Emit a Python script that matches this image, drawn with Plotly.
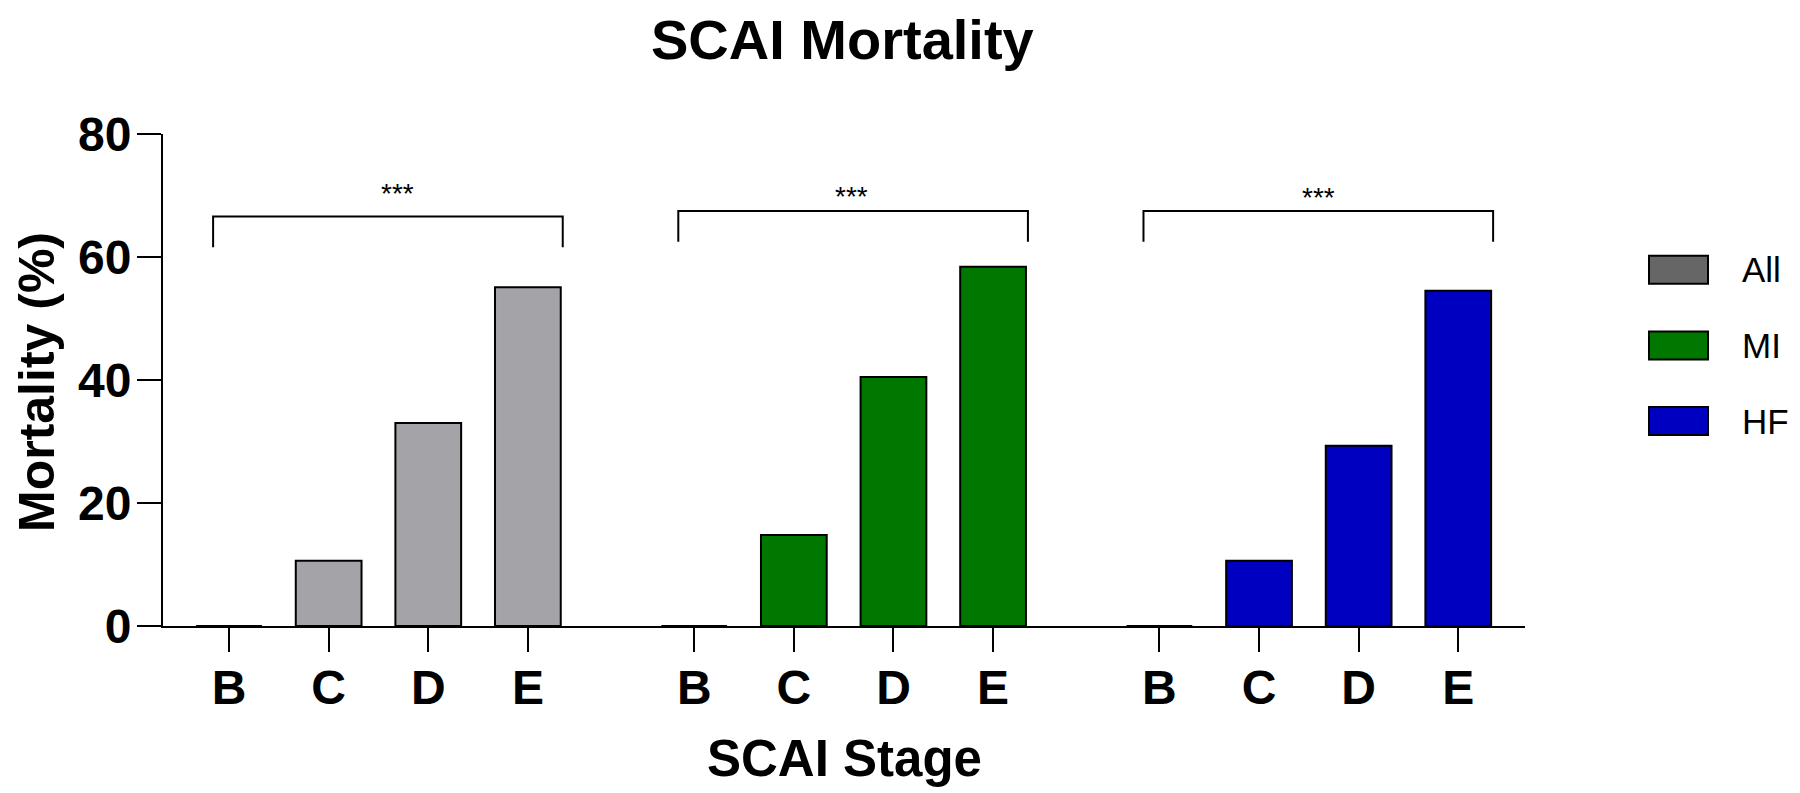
import plotly.graph_objects as go

# ---- data ----
stages = ["B", "C", "D", "E"]
groups = ["All", "MI", "HF"]
all_vals = [0, 10.6, 33.0, 55.1]
mi_vals = [0, 14.8, 40.5, 58.4]
hf_vals = [0, 10.6, 29.3, 54.5]
bracket_tops = [66.6, 67.5, 67.5]
star_heights = [70.4, 69.8, 69.6]
star_x = [1.69, 1.58, 1.60]
bracket_label = "***"
bar_colors = ["#A4A4A8", "#007800", "#0000C0"]
legend_colors = ["#666666", "#007800", "#0000C0"]

# ---- layout geometry (page has an 8px body margin) ----
W, H = 1792, 785
L, R, T, B = 155, 275, 126, 167
PW, PH = W - L - R, H - T - B
GROUP_STEP = 4.67
FONT = "Liberation Sans, Arial, sans-serif"


def px_x(p):
    return (p - 8 - L) / PW


def px_y(p):
    return (H - B - (p - 8)) / PH


series = [all_vals, mi_vals, hf_vals]
fig = go.Figure()
tickvals, ticktext = [], []
for g, (name, vals, col) in enumerate(zip(groups, series, bar_colors)):
    xs = [g * GROUP_STEP + i for i in range(len(stages))]
    tickvals += xs
    ticktext += stages
    fig.add_trace(go.Bar(
        x=xs, y=vals, name=name, width=0.66, showlegend=False,
        marker=dict(color=col, line=dict(color="black", width=2)),
    ))
    # significance bracket
    x0 = xs[0] - 0.16
    x1 = xs[-1] + 0.35
    top = bracket_tops[g]
    fig.add_shape(type="path",
                  path=f"M {x0},{top-5} L {x0},{top} L {x1},{top} L {x1},{top-5}",
                  xref="x", yref="y", line=dict(color="black", width=2))
    fig.add_annotation(x=xs[0] + star_x[g], y=star_heights[g], xref="x", yref="y",
                       text=bracket_label, showarrow=False,
                       font=dict(family=FONT, size=28, color="black"),
                       yanchor="middle")

# manual legend
for i, (name, col) in enumerate(zip(groups, legend_colors)):
    top_px = 255.7 + i * 75.7
    fig.add_shape(type="rect", xref="paper", yref="paper",
                  x0=px_x(1649), x1=px_x(1708),
                  y0=px_y(top_px + 28), y1=px_y(top_px),
                  fillcolor=col, line=dict(color="black", width=2))
    fig.add_annotation(xref="paper", yref="paper", x=px_x(1740), y=px_y(top_px + 14),
                       text=name, showarrow=False, xanchor="left", yanchor="middle",
                       font=dict(family=FONT, size=35, color="black"))

# titles
fig.add_annotation(xref="paper", yref="paper", x=px_x(842), y=px_y(40),
                   text="SCAI Mortality", showarrow=False, yanchor="middle",
                   font=dict(family=FONT, size=56, color="black", weight="bold"))
fig.add_annotation(xref="paper", yref="paper", x=px_x(844), y=px_y(758),
                   text="SCAI Stage", showarrow=False, yanchor="middle",
                   font=dict(family=FONT, size=51, color="black", weight="bold"))
fig.add_annotation(xref="paper", yref="paper", x=px_x(37), y=px_y(382),
                   text="Mortality (%)", showarrow=False, textangle=-90,
                   xanchor="center", yanchor="middle",
                   font=dict(family=FONT, size=50, color="black", weight="bold"))

fig.update_layout(
    width=W, height=H,
    margin=dict(l=L, r=R, t=T, b=B, autoexpand=False),
    paper_bgcolor="white", plot_bgcolor="white",
    barmode="overlay",
    showlegend=False,
    xaxis=dict(range=[-0.663, 13.01], tickmode="array", tickvals=tickvals, ticktext=ticktext,
               ticks="outside", ticklen=24, tickwidth=2, tickcolor="black",
               showline=True, linecolor="black", linewidth=2,
               showgrid=False, zeroline=False, ticklabelstandoff=-6,
               tickfont=dict(family=FONT, size=48, color="black", weight="bold")),
    yaxis=dict(range=[0, 80], tickmode="array", tickvals=[0, 20, 40, 60, 80],
               ticks="outside", ticklen=24, tickwidth=2, tickcolor="black",
               showline=True, linecolor="black", linewidth=2,
               showgrid=False, zeroline=False, ticklabelstandoff=-4,
               tickfont=dict(family=FONT, size=48, color="black", weight="bold")),
)

fig.write_html("out.html", config={"displayModeBar": False})
